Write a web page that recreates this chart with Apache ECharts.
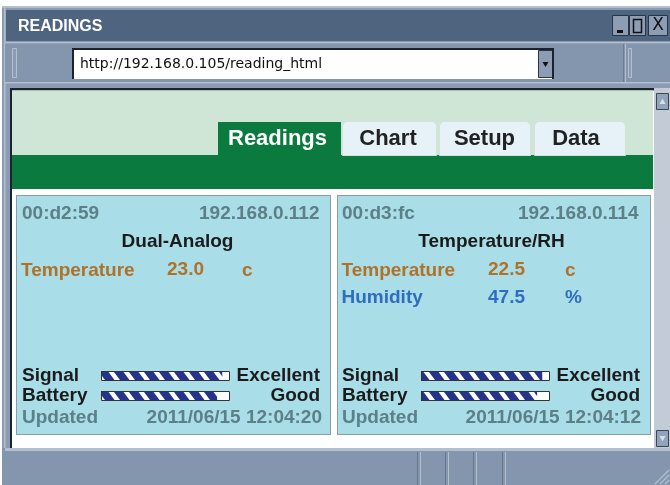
<!DOCTYPE html>
<html><head><meta charset="utf-8">
<script src="https://cdn.jsdelivr.net/npm/echarts/dist/echarts.min.js"></script>
<style>html,body{margin:0;padding:0;background:#fff}#c{width:670px;height:485px}</style>
</head><body><div id="c"></div>
<script>
// ---------- data ----------
const windowTitle = 'READINGS';
const pageUrl = 'http://192.168.0.105/reading_html';
const tabNames = ['Readings', 'Chart', 'Setup', 'Data'];
const deviceIds = ['00:d2:59', '00:d3:fc'];
const deviceIps = ['192.168.0.112', '192.168.0.114'];
const deviceTypes = ['Dual-Analog', 'Temperature/RH'];
const temperatureValues = [23.0, 22.5];
const temperatureUnits = ['c', 'c'];
const humidityValues = [null, 47.5];
const humidityUnits = ['', '%'];
const statusCategories = ['Signal', 'Battery'];
const signalLevels = [94, 94];
const batteryLevels = [90, 90];
const levelScaleMax = [100, 100];
const signalRatings = ['Excellent', 'Excellent'];
const batteryRatings = ['Good', 'Good'];
const updatedTimes = ['2011/06/15 12:04:20', '2011/06/15 12:04:12'];

// ---------- style / layout ----------
const FB = '"Liberation Sans", Arial, sans-serif';
const C = {
  frame: '#8a9bb2', light: '#b3bfce', title: '#4f647e', tool: '#8396ae', dark: '#1c2330',
  paleGreen: '#cfe5d6', green: '#0b7a3e', tab: '#e6f1f8', panel: '#a9dde7',
  gray: '#5d7f86', ink: '#1b1b1b', brown: '#b07128', blue: '#2f6dc0', track: '#c3cbd7'
};
const panels = [
  { x: 16.5, w: 314, mac: 22, ipR: 319.5, typeC: 177.5, name: 21, val: 167, unit: 242, barL: 101, barW: 129, lblL: 22, lblR: 320, dateR: 322 },
  { x: 337.5, w: 313, mac: 342, ipR: 638.5, typeC: 491.5, name: 341.5, val: 488, unit: 565, barL: 421, barW: 129, lblL: 342, lblR: 640, dateR: 641 }
];
const tabBoxes = [[218, 123, 277.5], [342, 95, 388], [439, 92, 484.5], [534, 92, 576]];

function stripeTile() {
  const c = document.createElement('canvas');
  const P = 15, H = 20, S = 0.75, BW = 9.5; c.width = P; c.height = H;
  const g = c.getContext('2d');
  g.fillStyle = '#fff'; g.fillRect(0, 0, P, H);
  g.fillStyle = '#25338c';
  for (let k = -3; k <= 3; k++) {
    const s = k * P;
    g.beginPath();
    g.moveTo(s, 0); g.lineTo(s + BW, 0); g.lineTo(s + BW + H * S, H); g.lineTo(s + H * S, H);
    g.closePath(); g.fill();
  }
  return c;
}
const tile = stripeTile();

function R(x, y, w, h, fill, extra) {
  const e = { type: 'rect', silent: true, z: 0, shape: { x, y, width: w, height: h }, style: { fill } };
  if (extra) {
    if (extra.r) e.shape.r = extra.r;
    if (extra.stroke) { e.style.stroke = extra.stroke; e.style.lineWidth = extra.lw || 1; }
    if (extra.dash) e.style.lineDash = extra.dash;
    if (extra.z != null) e.z = extra.z;
  }
  return e;
}
function T(text, x, y, font, fill, align) {
  return { type: 'text', silent: true, z: 10, style: { text, x, y, font, fill,
    align: align || 'left', textAlign: align || 'left', verticalAlign: 'middle', textVerticalAlign: 'middle' } };
}
function P(points, fill, z) {
  return { type: 'polygon', silent: true, z: z || 1, shape: { points }, style: { fill } };
}
function L(x1, y1, x2, y2, stroke, lw, z) {
  return { type: 'line', silent: true, z: z || 1, shape: { x1, y1, x2, y2 }, style: { stroke, lineWidth: lw || 1 } };
}

const els = [];
// window frame
els.push(R(2, 6, 668, 479, C.frame));
els.push(R(2, 6, 668, 2, C.light));
els.push(R(4, 8, 1.5, 477, C.light));
// title bar
els.push(R(6, 10, 664, 31, C.title));
els.push(T(windowTitle, 18, 27, 'bold 16px ' + FB, '#ffffff'));
// window buttons
[[612, 17], [629, 17], [648, 20]].forEach(([x, w]) => {
  els.push(R(x + 0.5, 15.5, w - 1, 20, '#8d9db4', { stroke: '#2b3446', z: 1 }));
});
els.push(R(617, 30, 6, 3, '#111', { z: 2 }));
els.push(R(633.5, 19.5, 8, 13, 'rgba(0,0,0,0)', { stroke: '#111', lw: 1.5, z: 2 }));
els.push(T('X', 658, 26, '17px "DejaVu Sans", sans-serif', '#111', 'center'));
// toolbar
els.push(R(5, 42, 665, 1.5, C.light));
els.push(R(5, 43.5, 665, 39, C.tool));
els.push(R(5, 82, 665, 1.5, C.light));
els.push(R(12.5, 48.5, 4, 29, C.frame, { stroke: C.light, z: 1 }));
els.push(R(72, 48, 482, 31, '#ffffff', { z: 1 }));
els.push(R(72, 48, 482, 2, C.dark, { z: 2 }));
els.push(R(72, 48, 2, 31, C.dark, { z: 2 }));
els.push(R(538.5, 50.5, 14, 27, '#8d9db4', { stroke: '#2b3446', z: 2 }));
els.push(P([[542.5, 62], [548.5, 62], [545.5, 67]], '#111', 3));
els.push(R(552, 48, 2, 31, C.dark, { z: 3 }));
els.push(L(623.5, 44, 623.5, 82, '#6b7b93', 1));
els.push(L(625.5, 44, 625.5, 82, C.light, 1));
els.push(R(628.5, 48.5, 3, 29, C.frame, { stroke: C.light, z: 1 }));
els.push(T(pageUrl, 80, 64, '14px "DejaVu Sans", sans-serif', '#111'));
// content area
els.push(R(10, 88, 645, 360, '#ffffff'));
els.push(R(10, 88, 645, 2.5, C.dark, { z: 1 }));
els.push(R(10, 88, 2, 360, C.dark, { z: 1 }));
els.push(R(12, 90.5, 641, 64.5, C.paleGreen, { z: 1 }));
els.push(R(12, 155, 641, 34, C.green, { z: 1 }));
tabBoxes.forEach(([x, w, cx], i) => {
  if (i === 0) {
    els.push(R(x, 122, w, 33, C.green, { z: 2 }));
  } else {
    els.push(R(x + 0.5, 121.5, w - 1, 34, C.tab, { r: [5, 5, 0, 0], stroke: '#d3e2da', z: 2 }));
  }
  els.push(T(tabNames[i], cx, 138.5, 'bold 22px ' + FB, i === 0 ? '#ffffff' : '#222222', 'center'));
});
// scrollbar
els.push(R(654, 88, 16, 360, C.track, { z: 1 }));
els.push(R(656.5, 93.5, 12, 16, '#93a3b9', { stroke: '#3a4556', z: 2 }));
els.push(P([[659.5, 104], [665.5, 104], [662.5, 98.5]], '#d8dfe8', 3));
els.push(R(656.5, 430.5, 12, 16, '#93a3b9', { stroke: '#3a4556', z: 2 }));
els.push(P([[659.5, 436], [665.5, 436], [662.5, 441.5]], '#d8dfe8', 3));
// status bar
els.push(R(2, 448, 668, 37, C.tool, { z: 1 }));
els.push(R(5, 448, 665, 3, C.light, { z: 2 }));
[417, 445, 473, 502].forEach(x => {
  els.push(L(x + 0.5, 452, x + 0.5, 485, '#66768f', 1, 2));
  els.push(L(x + 3.5, 452, x + 3.5, 485, C.light, 1, 2));
});
[0, 5, 10].forEach(d => els.push(L(669, 470 + d, 655 + d, 484, C.light, 1.2, 3)));

// panels
panels.forEach((p, i) => {
  els.push(R(p.x, 195.5, p.w, 239, C.panel, { stroke: '#3e4d52', dash: [1, 1], z: 1 }));
  const F = 'bold 19px ' + FB;
  els.push(T(deviceIds[i], p.mac, 214, F, C.gray));
  els.push(T(deviceIps[i], p.ipR, 214, F, C.gray, 'right'));
  els.push(T(deviceTypes[i], p.typeC, 241.5, F, C.ink, 'center'));
  els.push(T('Temperature', p.name, 270.5, F, C.brown));
  els.push(T(temperatureValues[i].toFixed(1), p.val, 269.5, F, C.brown));
  els.push(T(temperatureUnits[i], p.unit, 270.5, F, C.brown));
  if (humidityValues[i] != null) {
    els.push(T('Humidity', p.name, 297.5, F, C.blue));
    els.push(T(humidityValues[i].toFixed(1), p.val, 297.5, F, C.blue));
    els.push(T(humidityUnits[i], p.unit, 297.5, F, C.blue));
  }
  els.push(T('Updated', p.lblL, 418, F, C.gray));
  els.push(T(updatedTimes[i], p.dateR, 418, F, C.gray, 'right'));
});

// bars: grids / axes / series
const grid = [], xAxis = [], yAxis = [], series = [];
panels.forEach((p, i) => {
  grid.push({ left: p.barL, top: 366, width: p.barW, height: 40, containLabel: false });
  xAxis.push({ gridIndex: i, type: 'value', min: 0, max: 100, show: false });
  const lab = { fontSize: 19, fontWeight: 'bold', fontFamily: FB, color: C.ink, interval: 0, hideOverlap: false, padding: [3, 0, 0, 0] };
  yAxis.push({ gridIndex: i, type: 'category', data: statusCategories, inverse: true, z: 20,
    axisLine: { show: false }, axisTick: { show: false }, splitLine: { show: false },
    axisLabel: Object.assign({ align: 'left', margin: p.barL - p.lblL }, lab) });
  yAxis.push({ gridIndex: i, type: 'category', position: 'right', data: [signalRatings[i], batteryRatings[i]], inverse: true, z: 20,
    axisLine: { show: false }, axisTick: { show: false }, splitLine: { show: false },
    axisLabel: Object.assign({ align: 'right', margin: p.lblR - (p.barL + p.barW) }, lab) });
  series.push({ type: 'bar', xAxisIndex: i, yAxisIndex: 2 * i, data: [signalLevels[i], batteryLevels[i]],
    barWidth: 10, barGap: '-100%', silent: true, z: 3,
    showBackground: true, backgroundStyle: { color: '#ffffff', opacity: 1 },
    itemStyle: { color: { image: tile, repeat: 'repeat' } } });
  series.push({ type: 'bar', xAxisIndex: i, yAxisIndex: 2 * i, data: [levelScaleMax[i], levelScaleMax[i]],
    barWidth: 10, barGap: '-100%', silent: true, z: 4,
    itemStyle: { color: 'rgba(0,0,0,0)', borderColor: '#333333', borderWidth: 1 } });
});

const chart = echarts.init(document.getElementById('c'), null, { renderer: 'canvas' });
chart.setOption({
  animation: false,
  backgroundColor: '#ffffff',
  graphic: { elements: els },
  grid, xAxis, yAxis, series
});
</script>
</body></html>
